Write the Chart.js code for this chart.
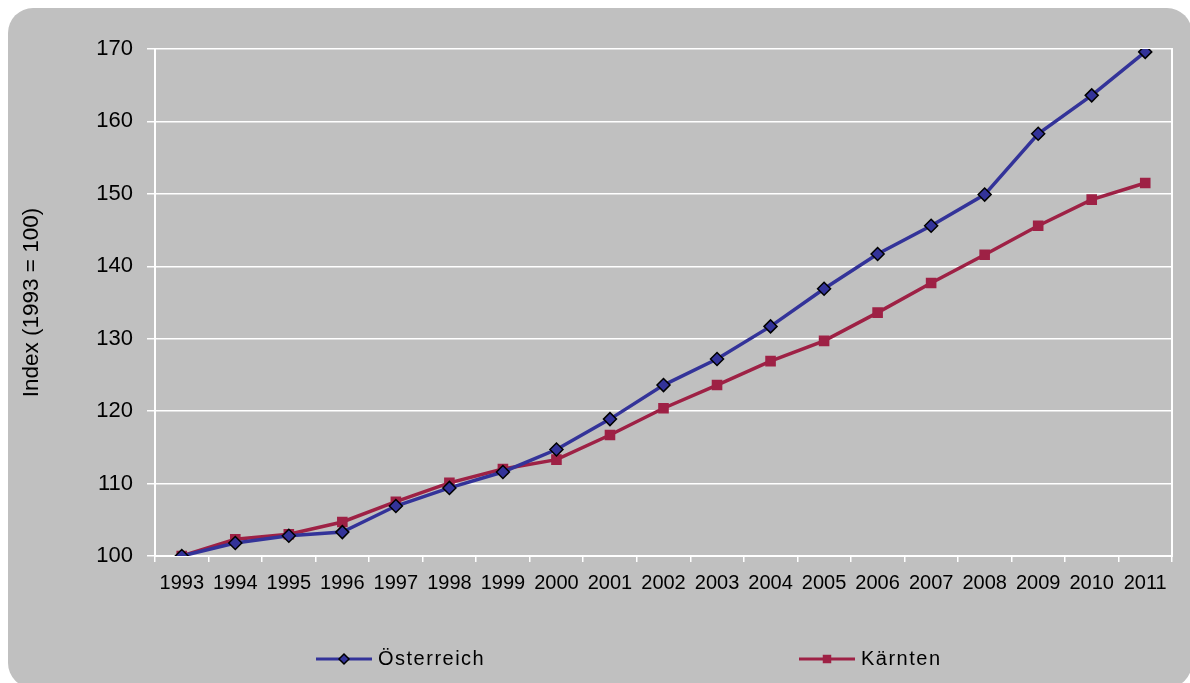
<!DOCTYPE html>
<html lang="de">
<head>
    <meta charset="UTF-8">
    <title>Index (1993 = 100)</title>
    <script src="https://cdn.jsdelivr.net/npm/chart.js"></script>
    <style>
        body { margin: 0; background: #fff; font-family: Arial, "Liberation Sans", sans-serif; }
        #wrap { position: relative; width: 1190px; height: 683px; overflow: hidden; }
        #panel { position: absolute; left: 8px; top: 8px; width: 1184px; height: 680px; background: #c0c0c0; border-radius: 25px; }
        #chart { position: absolute; left: 0; top: 0; }
    </style>
</head>
<body>
    <div id="wrap">
        <div id="panel"></div>
        <canvas id="chart" width="1190" height="683"></canvas>
    </div>
    <script>
        // values
        const years = ['1993', '1994', '1995', '1996', '1997', '1998', '1999', '2000', '2001', '2002',
                       '2003', '2004', '2005', '2006', '2007', '2008', '2009', '2010', '2011'];
        const oesterreich = [100, 101.8, 102.8, 103.3, 106.9, 109.4, 111.6, 114.7, 118.9, 123.6,
                             127.2, 131.7, 136.9, 141.7, 145.6, 149.9, 158.3, 163.6, 169.6];
        const kaernten = [100, 102.3, 103.0, 104.7, 107.5, 110.1, 112.0, 113.3, 116.7, 120.4,
                          123.6, 126.9, 129.7, 133.6, 137.7, 141.6, 145.6, 149.2, 151.5];
        const yTicks = [100, 110, 120, 130, 140, 150, 160, 170];

        const BLUE = '#333399';
        const RED = '#9e2145';
        const FONT = 'Arial, "Liberation Sans", sans-serif';

        // legend: line with marker, items spread apart like the original
        const legendPlugin = {
            id: 'spreadLegend',
            afterDraw(chart) {
                const ctx = chart.ctx;
                const y = 659;
                const items = [
                    { ds: chart.data.datasets[0], x: 316 },
                    { ds: chart.data.datasets[1], x: 799 }
                ];
                ctx.save();
                items.forEach(it => {
                    ctx.strokeStyle = it.ds.borderColor;
                    ctx.lineWidth = 3;
                    ctx.beginPath();
                    ctx.moveTo(it.x, y);
                    ctx.lineTo(it.x + 56, y);
                    ctx.stroke();
                    ctx.fillStyle = it.ds.pointBackgroundColor;
                    ctx.strokeStyle = it.ds.pointBorderColor;
                    ctx.lineWidth = it.ds.pointBorderWidth;
                    Chart.helpers.drawPoint(ctx, {
                        pointStyle: it.ds.pointStyle,
                        radius: it.ds.pointRadius - 1.5,
                        borderWidth: it.ds.pointBorderWidth
                    }, it.x + 28, y);
                    ctx.fillStyle = '#000';
                    ctx.font = '20px ' + FONT;
                    ctx.letterSpacing = '1.5px';
                    ctx.textBaseline = 'middle';
                    ctx.textAlign = 'left';
                    ctx.fillText(it.ds.label, it.x + 62, y);
                });
                ctx.restore();
            }
        };

        new Chart(document.getElementById('chart'), {
            type: 'line',
            data: {
                labels: years,
                datasets: [{
                    label: 'Österreich',
                    data: oesterreich,
                    borderColor: BLUE,
                    borderWidth: 3.5,
                    pointStyle: 'rectRot',
                    pointRadius: 6.5,
                    pointBackgroundColor: BLUE,
                    pointBorderColor: '#000',
                    pointBorderWidth: 1.5,
                    tension: 0
                }, {
                    label: 'Kärnten',
                    data: kaernten,
                    borderColor: RED,
                    borderWidth: 3.5,
                    pointStyle: 'rect',
                    pointRadius: 7.5,
                    pointBackgroundColor: RED,
                    pointBorderColor: RED,
                    pointBorderWidth: 0,
                    tension: 0
                }]
            },
            options: {
                responsive: false,
                animation: false,
                layout: { padding: { top: 49, left: 14, right: 18, bottom: 79 } },
                plugins: {
                    legend: { display: false },
                    tooltip: { enabled: false }
                },
                scales: {
                    x: {
                        offset: true,
                        grid: { offset: true, drawOnChartArea: false, color: '#fff', tickLength: 6, lineWidth: 1.5 },
                        border: { color: '#fff', width: 2 },
                        ticks: { color: '#000', padding: 9, maxRotation: 0, autoSkip: false, font: { size: 20, family: FONT } }
                    },
                    y: {
                        min: 100,
                        max: 170,
                        afterBuildTicks: s => { s.ticks = yTicks.map(v => ({ value: v })); },
                        afterFit: s => { s.width = 141; },
                        grid: { color: '#fff', lineWidth: 1.5, tickLength: 8 },
                        border: { color: '#fff', width: 2 },
                        ticks: { color: '#000', padding: 14, font: { size: 22, family: FONT } },
                        title: {
                            display: true,
                            text: 'Index (1993 = 100)',
                            color: '#000',
                            font: { size: 22.5, family: FONT }
                        }
                    },
                    yRight: {
                        position: 'right',
                        afterFit: s => { s.width = 0; },
                        grid: { display: false },
                        border: { color: '#fff', width: 2 },
                        ticks: { display: false }
                    }
                }
            },
            plugins: [legendPlugin]
        });
    </script>
</body>
</html>
